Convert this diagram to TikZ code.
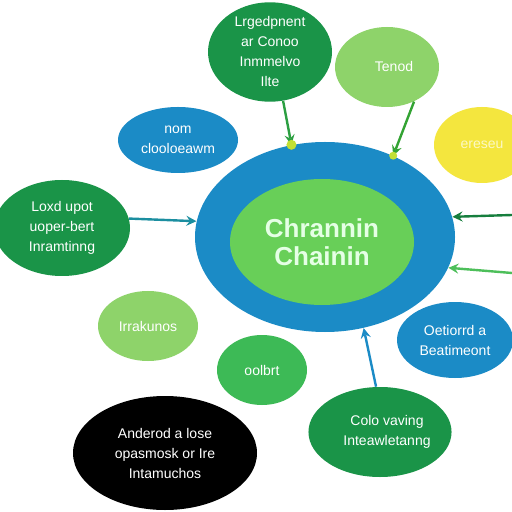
\documentclass[tikz,border=0pt]{standalone}
\usepackage{fontspec}
\setmainfont{Liberation Sans}
\usepackage{xcolor}
\usetikzlibrary{shapes, arrows, positioning, calc}

\definecolor{hubblue}{HTML}{1B8BC6}
\definecolor{corelime}{HTML}{68CF58}
\definecolor{deepgreen}{HTML}{1A9448}
\definecolor{softgreen}{HTML}{8ED36A}
\definecolor{midgreen}{HTML}{3DBA56}
\definecolor{sunyellow}{HTML}{F4E63E}
\definecolor{dotlime}{HTML}{C2E034}

\tikzset{
  bubble/.style={ellipse, inner sep=0pt, align=center, text=white,
    font=\fontsize{7}{10}\selectfont},
  link/.style={->, line width=1.2pt, >=stealth}
}

\begin{document}
\begin{tikzpicture}[x=0.5pt, y=-0.5pt]
\useasboundingbox (0,0) rectangle (512,512);
\fill[white] (0,0) rectangle (512,512);

% Central hub
\node[ellipse, fill=hubblue, minimum width=130pt, minimum height=95pt] (outer) at (325,237) {};
\node[ellipse, fill=corelime, minimum width=92pt, minimum height=63pt, text=white!90!green,
  align=center, font=\fontsize{13}{14}\selectfont\bfseries] (core) at (322,242) {Chrannin\\Chainin};

% Surrounding bubbles
\node[bubble, fill=deepgreen, minimum width=62pt, minimum height=48pt] (topnote) at (270,52)
  {Lrgedpnent\\ar Conoo\\Inmmelvo\\Ilte};
\node[bubble, fill=softgreen, minimum width=52pt, minimum height=40pt] (tenod) at (387,67) {\quad Tenod};
\node[bubble, fill=sunyellow, minimum width=48pt, minimum height=38pt, text=white!70!sunyellow] (yellow) at (482,145) {ereseu};
\node[bubble, fill=hubblue, minimum width=60pt, minimum height=33pt] (nom) at (178,140) {nom\\clooloeawm};
\node[bubble, fill=deepgreen, minimum width=68pt, minimum height=48pt] (loadinput) at (62,228)
  {Loxd upot\\uoper-bert\\Inramtinng};
\node[bubble, fill=softgreen, minimum width=50pt, minimum height=35pt] (irrak) at (148,326) {Irrakunos};
\node[bubble, fill=midgreen, minimum width=45pt, minimum height=35pt] (oolbrt) at (262,370) {oolbrt};
\node[bubble, fill=hubblue, minimum width=58pt, minimum height=38pt] (beat) at (455,340)
  {Oetiorrd a\\Beatimeont};
\node[bubble, fill=deepgreen, minimum width=65pt, minimum height=45pt] (colo) at (380,432)
  {\quad Colo vaving\\\quad Inteawletanng};
\node[bubble, fill=black, minimum width=92pt, minimum height=57pt] (dark) at (165,453)
  {Anderod a lose\\opasmosk or Ire\\Intamuchos};

% Connectors into the hub
\draw[link, deepgreen!90!lime] (topnote.-75) -- (outer.110);
\fill[dotlime] (outer.110) circle (5);
\draw[link, green!55!black!80] (tenod.-52) -- (outer.50);
\fill[dotlime] (outer.50) circle (4);
\draw[link, hubblue!70!deepgreen] (loadinput.8) -- (outer.173);
\draw[link, hubblue] (colo.95) -- (outer.-67);

% Arrows from the right edge
\coordinate (rightA) at (512,215);
\coordinate (rightB) at (512,273);
\draw[link, deepgreen!85!black] (rightA) -- (outer.9);
\draw[link, midgreen!80!softgreen] (rightB) -- (outer.-14);
\end{tikzpicture}
\end{document}
